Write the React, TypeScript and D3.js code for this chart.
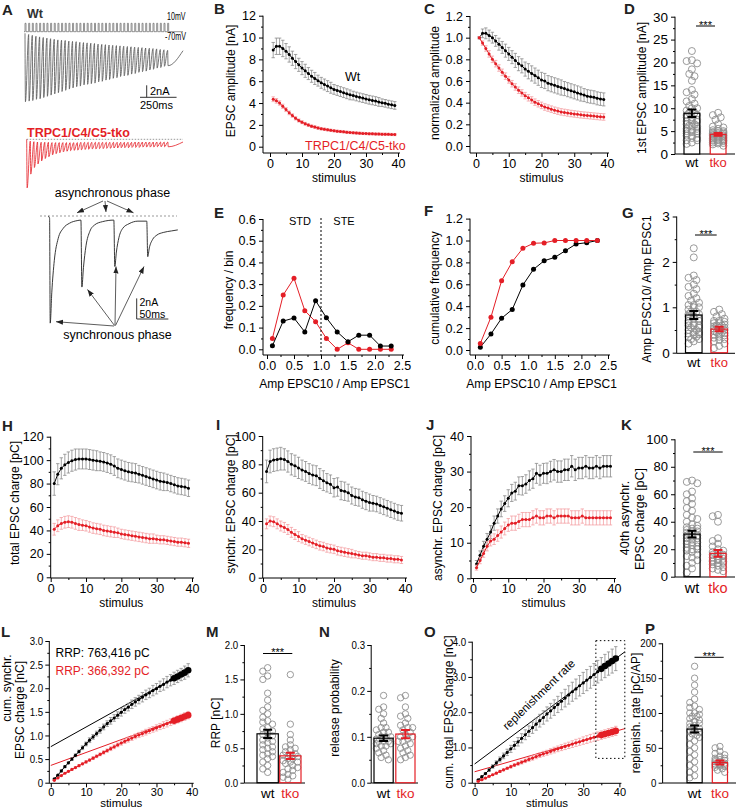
import React, { useEffect, useRef } from "react";
import * as d3 from "d3";

const FONT = "'Liberation Sans', Arial, Helvetica, sans-serif";
const RED = "#e41e26";
const RED_ERR = "#f4a0a3";
const GREY_ERR = "#8c8c8c";
const PT_GREY = "#8e8e8e";

// ---------- categories ----------
const stimulus = d3.range(1, 40);
const binCenters = [0.1, 0.3, 0.5, 0.7, 0.9, 1.1, 1.3, 1.5, 1.7, 1.9, 2.1, 2.3];
const groups = ["wt", "tko"];

// ---------- A: example traces ----------
const STIM_MS = 25;
const wtTracePeak = [11.4, 11.3, 11.2, 11.0, 10.9, 10.7, 10.5, 10.3, 10.1, 9.9, 9.7, 9.5, 9.3, 9.1, 8.9, 8.8, 8.6, 8.5, 8.4, 8.3, 8.1, 8.0, 7.8, 7.7, 7.5, 7.4, 7.2, 7.1, 7.0, 6.8, 6.7, 6.5, 6.4, 6.3, 6.1, 6.0, 5.8, 5.7, 5.5, 5.4];
const wtTraceBase = [0, 0.2, 0.35, 0.5, 0.6, 0.7, 0.8, 0.9, 1.0, 1.1, 1.15, 1.2, 1.3, 1.35, 1.4, 1.5, 1.55, 1.6, 1.65, 1.7, 1.8, 1.85, 1.9, 1.95, 2.0, 2.05, 2.1, 2.15, 2.2, 2.25, 2.3, 2.35, 2.4, 2.45, 2.5, 2.55, 2.6, 2.7, 2.75, 2.85, 2.9];
const tkoTracePeak = [8.1, 5.8, 4.7, 4.1, 3.6, 3.2, 2.9, 2.6, 2.4, 2.25, 2.1, 2.0, 1.9, 1.85, 1.8, 1.75, 1.7, 1.65, 1.6, 1.6, 1.55, 1.55, 1.5, 1.5, 1.45, 1.45, 1.4, 1.4, 1.4, 1.35, 1.35, 1.35, 1.3, 1.3, 1.3, 1.3, 1.25, 1.25, 1.25, 1.25];
const tkoTraceBase = [0, 0.3, 0.4, 0.45, 0.5, 0.5, 0.5, 0.55, 0.55, 0.55, 0.55, 0.55, 0.55, 0.55, 0.55, 0.5, 0.5, 0.5, 0.5, 0.5, 0.5, 0.5, 0.5, 0.5, 0.5, 0.5, 0.5, 0.5, 0.5, 0.5, 0.45, 0.45, 0.45, 0.45, 0.45, 0.45, 0.45, 0.45, 0.45, 0.45, 0.45];
const zoomTraceT = [0, 2.5, 3.5, 6, 10, 16, 24, 34, 46, 52, 53.5, 56, 60, 66, 74, 86, 104, 105.5, 108, 112, 118, 128, 142, 156, 157.5, 160, 165, 172, 182, 195, 205];
const zoomTraceI = [0, -0.2, -10.4, -7.4, -4.3, -2.2, -1.2, -0.7, -0.45, -0.4, -6.9, -5.0, -2.9, -1.5, -0.85, -0.55, -0.4, -4.9, -3.5, -2.1, -1.2, -0.75, -0.5, -0.5, -3.95, -3.1, -2.3, -1.85, -1.6, -1.45, -1.35];

// ---------- B ----------
const ampWt = [8.85, 9.2, 9.2, 9.0, 8.75, 8.45, 8.1, 7.8, 7.5, 7.2, 6.95, 6.7, 6.45, 6.25, 6.05, 5.85, 5.7, 5.55, 5.4, 5.25, 5.15, 5.05, 4.95, 4.85, 4.75, 4.68, 4.6, 4.52, 4.45, 4.38, 4.3, 4.24, 4.18, 4.1, 4.03, 3.97, 3.9, 3.84, 3.78];
const ampWtErr = [0.7, 0.75, 0.75, 0.75, 0.7, 0.7, 0.65, 0.65, 0.6, 0.6, 0.6, 0.55, 0.55, 0.55, 0.5, 0.5, 0.5, 0.5, 0.5, 0.45, 0.45, 0.45, 0.45, 0.45, 0.45, 0.4, 0.4, 0.4, 0.4, 0.4, 0.4, 0.4, 0.4, 0.4, 0.35, 0.35, 0.35, 0.35, 0.35];
const ampTko = [4.35, 4.2, 4.0, 3.7, 3.4, 3.1, 2.85, 2.6, 2.4, 2.25, 2.1, 1.98, 1.88, 1.8, 1.72, 1.65, 1.6, 1.55, 1.5, 1.46, 1.42, 1.39, 1.36, 1.33, 1.3, 1.28, 1.26, 1.24, 1.22, 1.2, 1.19, 1.18, 1.17, 1.16, 1.15, 1.14, 1.13, 1.12, 1.11];
const ampTkoErr = [0.22, 0.21, 0.2, 0.19, 0.18, 0.17, 0.16, 0.15, 0.14, 0.14, 0.13, 0.13, 0.12, 0.12, 0.12, 0.11, 0.11, 0.11, 0.1, 0.1, 0.1, 0.1, 0.1, 0.1, 0.1, 0.1, 0.1, 0.1, 0.1, 0.1, 0.1, 0.1, 0.1, 0.1, 0.1, 0.1, 0.1, 0.1, 0.1];

// ---------- C ----------
const normWt = [1.0, 1.04, 1.04, 1.02, 1.0, 0.97, 0.94, 0.91, 0.88, 0.85, 0.82, 0.79, 0.76, 0.74, 0.71, 0.69, 0.67, 0.65, 0.63, 0.61, 0.6, 0.58, 0.57, 0.56, 0.55, 0.54, 0.53, 0.52, 0.51, 0.5, 0.49, 0.48, 0.47, 0.46, 0.455, 0.45, 0.44, 0.435, 0.43];
const normWtErr = [0.01, 0.04, 0.05, 0.05, 0.05, 0.05, 0.055, 0.055, 0.06, 0.06, 0.06, 0.065, 0.065, 0.065, 0.065, 0.07, 0.07, 0.07, 0.07, 0.07, 0.07, 0.07, 0.07, 0.07, 0.07, 0.07, 0.065, 0.065, 0.065, 0.065, 0.065, 0.065, 0.06, 0.06, 0.06, 0.06, 0.06, 0.06, 0.06];
const normTko = [1.0, 0.95, 0.9, 0.85, 0.8, 0.76, 0.72, 0.68, 0.645, 0.61, 0.575, 0.545, 0.515, 0.49, 0.465, 0.445, 0.425, 0.405, 0.39, 0.375, 0.36, 0.35, 0.34, 0.33, 0.322, 0.315, 0.31, 0.305, 0.3, 0.296, 0.292, 0.288, 0.285, 0.282, 0.279, 0.276, 0.273, 0.27, 0.268];
const normTkoErr = [0.01, 0.02, 0.025, 0.03, 0.03, 0.03, 0.03, 0.03, 0.03, 0.03, 0.03, 0.03, 0.03, 0.03, 0.03, 0.03, 0.03, 0.03, 0.03, 0.03, 0.03, 0.03, 0.03, 0.03, 0.03, 0.03, 0.03, 0.03, 0.03, 0.03, 0.03, 0.03, 0.03, 0.03, 0.03, 0.03, 0.03, 0.03, 0.03];

// ---------- E / F ----------
const freqWt = [0.016, 0.13, 0.144, 0.08, 0.224, 0.145, 0.08, 0.035, 0.065, 0.065, 0.015, 0.015];
const freqTko = [0.05, 0.25, 0.327, 0.178, 0.127, 0.05, 0.0, 0.03, 0.0, 0.0, 0.0, 0.0];
const cumFreqWt = [0.025, 0.146, 0.29, 0.37, 0.593, 0.737, 0.815, 0.846, 0.907, 0.968, 0.98, 1.0];
const cumFreqTko = [0.06, 0.3, 0.633, 0.806, 0.929, 0.975, 0.978, 1.0, 1.0, 1.0, 1.0, 1.0];

// ---------- H ----------
const totWt = [80, 88, 93, 96, 98, 99.5, 100.5, 101, 101, 101, 100.5, 100, 99.5, 99, 98.5, 97.5, 96.5, 95, 93, 92, 91, 90, 89.5, 89, 88, 87, 86, 85, 84, 83, 82, 81.5, 81, 80, 79, 78, 77.5, 77, 76];
const totWtErr = [10, 9, 9, 9, 9, 9, 9, 8.5, 8.5, 8.5, 8.5, 8.5, 8.5, 8, 8, 8, 8, 8, 8, 8, 8, 8, 8, 8, 7.5, 7.5, 7.5, 7.5, 7.5, 7.5, 7.5, 7.5, 7, 7, 7, 7, 7, 7, 7];
const totTko = [41, 44, 46, 47, 47.5, 47, 46, 45, 44.5, 44, 43, 42, 41.5, 41, 40, 39.5, 39, 38.5, 38, 37, 36.5, 36, 35.5, 35, 34.5, 34, 33.5, 33, 33, 32.5, 32, 32, 31.5, 31, 30.5, 30, 30, 29.5, 29];
const totTkoErr = [5, 5, 5, 5, 5, 5, 5, 5, 4.5, 4.5, 4.5, 4.5, 4.5, 4.5, 4.5, 4.5, 4.5, 4.5, 4, 4, 4, 4, 4, 4, 4, 4, 4, 4, 4, 3.5, 3.5, 3.5, 3.5, 3.5, 3.5, 3.5, 3.5, 3.5, 3.5];

// ---------- I ----------
const synWt = [75, 82, 83, 83.5, 84, 83.5, 82, 80, 79, 77.5, 76, 75, 73.5, 72.5, 72, 70, 68.5, 67, 66, 63.5, 64, 61.5, 61, 60, 58, 57, 56.5, 55, 54, 53, 52.5, 52, 51, 50, 49, 48, 47, 46, 45.5];
const synWtErr = [8, 8, 8, 8, 8, 7.5, 7.5, 7.5, 7.5, 7.5, 7, 7, 7, 7, 7, 7, 7, 6.5, 6.5, 6.5, 6.5, 6.5, 6.5, 6, 6, 6, 6, 6, 6, 6, 5.5, 5.5, 5.5, 5.5, 5.5, 5.5, 5.5, 5.5, 5.5];
const synTko = [38, 40, 39.5, 38, 36.5, 35.5, 34, 32, 30.5, 29, 27.5, 26.5, 25.5, 24.5, 23.5, 22.5, 22, 21, 20.5, 20, 19, 18.5, 18, 17.5, 17, 16.5, 16, 15.5, 15.5, 15, 14.5, 14.5, 14, 14, 13.5, 13.5, 13, 13, 12.5];
const synTkoErr = [3.5, 3.5, 3.5, 3.5, 3.5, 3.5, 3.5, 3.5, 3.5, 3.5, 3, 3, 3, 3, 3, 3, 3, 3, 3, 3, 3, 3, 3, 3, 3, 2.5, 2.5, 2.5, 2.5, 2.5, 2.5, 2.5, 2.5, 2.5, 2.5, 2.5, 2.5, 2.5, 2.5];

// ---------- J ----------
const asyWt = [4, 6.5, 9, 11, 13, 15.5, 17.5, 19.5, 21, 22.5, 24, 24.5, 26, 26, 26.5, 27.5, 28, 29.5, 29, 29.5, 29.5, 30, 30.5, 30, 30, 30.5, 30.5, 31.5, 30.5, 31, 31, 31.5, 31, 31, 31.5, 31, 31.5, 31.5, 31.5];
const asyWtErr = [1, 1.2, 1.4, 1.6, 1.8, 2, 2, 2.2, 2.2, 2.4, 2.4, 2.5, 2.5, 2.6, 2.6, 2.7, 2.7, 2.8, 2.8, 2.8, 2.9, 2.9, 2.9, 3, 3, 3, 3, 3, 3, 3, 3, 3, 3, 3, 3, 3, 3, 3, 3];
const asyTko = [3, 5, 7, 9, 10.5, 11, 12, 13, 14, 15, 15.5, 15.5, 16, 16.5, 16.5, 16.5, 17, 17.5, 17, 17, 17.5, 17.5, 17, 17.5, 17.5, 17.5, 17.5, 17, 17, 17, 17.5, 17, 17, 17, 17, 17, 17, 17, 17];
const asyTkoErr = [0.7, 0.9, 1.1, 1.3, 1.4, 1.5, 1.6, 1.7, 1.8, 1.8, 2, 2, 2, 2, 2, 2, 2, 2, 2, 2, 2, 2, 2, 2, 2, 2, 2, 2, 2, 2, 2, 2, 2, 2, 2, 2, 2, 2, 2];

// ---------- L ----------
const cumSynWt = [0.08, 0.16, 0.25, 0.34, 0.42, 0.5, 0.58, 0.66, 0.74, 0.82, 0.9, 0.97, 1.04, 1.11, 1.18, 1.25, 1.31, 1.37, 1.43, 1.49, 1.55, 1.6, 1.66, 1.71, 1.76, 1.81, 1.86, 1.9, 1.95, 1.99, 2.04, 2.08, 2.13, 2.17, 2.21, 2.25, 2.29, 2.33, 2.38];
const cumSynWtErr = [0.01, 0.01, 0.02, 0.02, 0.02, 0.03, 0.03, 0.03, 0.04, 0.04, 0.05, 0.05, 0.05, 0.06, 0.06, 0.06, 0.07, 0.07, 0.07, 0.08, 0.08, 0.08, 0.09, 0.09, 0.09, 0.1, 0.1, 0.1, 0.11, 0.11, 0.11, 0.12, 0.12, 0.12, 0.13, 0.13, 0.13, 0.14, 0.14];
const cumSynTko = [0.05, 0.1, 0.15, 0.2, 0.24, 0.28, 0.32, 0.36, 0.4, 0.44, 0.48, 0.52, 0.56, 0.6, 0.64, 0.68, 0.72, 0.76, 0.8, 0.84, 0.875, 0.91, 0.945, 0.98, 1.01, 1.04, 1.07, 1.1, 1.13, 1.16, 1.19, 1.22, 1.25, 1.28, 1.31, 1.34, 1.37, 1.4, 1.43];
const cumSynTkoErr = [0.005, 0.01, 0.01, 0.01, 0.015, 0.015, 0.02, 0.02, 0.02, 0.025, 0.025, 0.03, 0.03, 0.03, 0.035, 0.035, 0.04, 0.04, 0.04, 0.045, 0.045, 0.05, 0.05, 0.05, 0.055, 0.055, 0.06, 0.06, 0.06, 0.065, 0.065, 0.07, 0.07, 0.07, 0.075, 0.075, 0.08, 0.08, 0.08];
const rrpIntercept = [0.763, 0.366];
const rrpSlope = [0.0415, 0.0273];

// ---------- O ----------
const cumTotWt = [0.08, 0.17, 0.26, 0.36, 0.46, 0.56, 0.66, 0.76, 0.86, 0.96, 1.06, 1.16, 1.26, 1.36, 1.46, 1.56, 1.66, 1.76, 1.85, 1.95, 2.04, 2.13, 2.22, 2.31, 2.4, 2.49, 2.58, 2.66, 2.75, 2.83, 2.91, 2.99, 3.07, 3.15, 3.23, 3.31, 3.38, 3.45, 3.52];
const cumTotWtErr = [0.01, 0.02, 0.03, 0.04, 0.05, 0.06, 0.07, 0.08, 0.09, 0.1, 0.11, 0.12, 0.13, 0.14, 0.15, 0.16, 0.17, 0.18, 0.19, 0.2, 0.21, 0.22, 0.23, 0.24, 0.25, 0.26, 0.27, 0.28, 0.29, 0.3, 0.3, 0.31, 0.31, 0.32, 0.32, 0.33, 0.33, 0.34, 0.34];
const cumTotTko = [0.04, 0.085, 0.13, 0.18, 0.225, 0.27, 0.32, 0.365, 0.41, 0.455, 0.5, 0.54, 0.58, 0.62, 0.66, 0.7, 0.74, 0.78, 0.82, 0.85, 0.89, 0.925, 0.96, 0.995, 1.03, 1.06, 1.095, 1.13, 1.16, 1.195, 1.225, 1.26, 1.29, 1.32, 1.35, 1.38, 1.41, 1.44, 1.47];
const cumTotTkoErr = [0.005, 0.01, 0.015, 0.02, 0.02, 0.025, 0.03, 0.03, 0.035, 0.04, 0.04, 0.045, 0.05, 0.05, 0.055, 0.06, 0.06, 0.065, 0.07, 0.07, 0.075, 0.08, 0.08, 0.085, 0.09, 0.09, 0.095, 0.1, 0.1, 0.105, 0.11, 0.11, 0.115, 0.12, 0.12, 0.12, 0.125, 0.125, 0.13];
const replIntercept = [0.53, 0.31];
const replSlope = [0.0767, 0.0295];
const fitWindow = [33.5, 41.5];
const fitWindowY = [0.69, 4.03];

// ---------- bar panels (wt, tko) ----------
const dMean = [8.9, 4.3];
const dSem = [0.8, 0.3];
const dWtPts = [22.5, 20.5, 20.3, 19.8, 18.5, 17.5, 17, 16, 14, 13.5, 13, 12, 11.5, 11, 10.5, 10, 10, 9.5, 9, 9, 8.5, 8.5, 8, 8, 7.5, 7.5, 7, 7, 6.5, 6.5, 6, 6, 5.5, 5.5, 5, 5, 4.5, 4.5, 4, 4, 3.5, 3.5, 3, 3, 2.5, 2.2, 4.8, 5.2, 6.2, 7.2];
const dTkoPts = [9, 8.5, 8, 7.5, 6.5, 6, 5.5, 5.2, 5, 5, 4.8, 4.6, 4.5, 4.4, 4.2, 4, 4, 3.8, 3.6, 3.5, 3.4, 3.2, 3, 3, 2.8, 2.6, 2.5, 2.3, 2.1, 1.8, 4.3, 3.9, 3.7, 4.1, 3.3, 2.9, 4.7, 5.8, 3.1, 2.4];

const gMean = [0.83, 0.52];
const gSem = [0.09, 0.05];
const gWtPts = [2.3, 2.1, 1.7, 1.65, 1.6, 1.5, 1.45, 1.4, 1.3, 1.25, 1.2, 1.15, 1.1, 1.05, 1.0, 1.0, 0.95, 0.9, 0.9, 0.85, 0.8, 0.8, 0.75, 0.7, 0.7, 0.65, 0.6, 0.6, 0.55, 0.5, 0.5, 0.45, 0.45, 0.4, 0.4, 0.35, 0.35, 0.3, 0.3, 0.25, 0.2, 0.6, 0.75, 1.05, 0.85, 0.65, 0.55, 0.42];
const gTkoPts = [0.95, 0.9, 0.85, 0.8, 0.75, 0.7, 0.68, 0.65, 0.62, 0.6, 0.58, 0.55, 0.53, 0.5, 0.5, 0.48, 0.45, 0.43, 0.4, 0.38, 0.35, 0.33, 0.3, 0.28, 0.25, 0.2, 0.15, 0.1, 0.6, 0.55, 0.45, 0.4, 0.65, 0.7];

const kMean = [31, 17];
const kSem = [2.5, 2.4];
const kWtPts = [70, 69, 68, 62, 60, 57, 55, 53, 50, 48, 45, 43, 42, 40, 38, 37, 36, 35, 34, 33, 32, 31, 30, 29, 28, 27, 26, 25, 24, 23, 22, 21, 20, 19, 18, 16, 15, 14, 12, 10, 8, 6, 3, 35, 28, 25, 20, 33, 30];
const kTkoPts = [45, 44, 40, 28, 26, 24, 22, 20, 19, 18, 17, 16, 15, 14, 13, 12, 11, 10, 10, 9, 8, 7, 6, 5, 4, 12, 15, 13, 11, 16];

const mMean = [0.71, 0.39];
const mSem = [0.06, 0.045];
const mWtPts = [1.67, 1.62, 1.55, 1.5, 1.3, 1.2, 1.1, 1.05, 1.0, 0.95, 0.9, 0.88, 0.85, 0.8, 0.78, 0.75, 0.72, 0.7, 0.65, 0.62, 0.6, 0.58, 0.55, 0.5, 0.48, 0.45, 0.42, 0.4, 0.38, 0.35, 0.3, 0.25, 0.2, 0.15, 0.68, 0.52];
const mTkoPts = [1.57, 0.85, 0.7, 0.62, 0.55, 0.52, 0.5, 0.48, 0.45, 0.42, 0.4, 0.38, 0.35, 0.32, 0.3, 0.28, 0.25, 0.22, 0.2, 0.18, 0.15, 0.12, 0.1, 0.08, 0.05, 0.35, 0.4, 0.3];

const nMean = [0.097, 0.106];
const nSem = [0.006, 0.009];
const nWtPts = [0.19, 0.165, 0.16, 0.15, 0.14, 0.13, 0.12, 0.12, 0.115, 0.11, 0.105, 0.1, 0.1, 0.095, 0.09, 0.09, 0.085, 0.08, 0.08, 0.075, 0.07, 0.065, 0.06, 0.055, 0.05, 0.1, 0.11, 0.09, 0.085];
const nTkoPts = [0.19, 0.185, 0.165, 0.15, 0.145, 0.14, 0.13, 0.125, 0.12, 0.115, 0.11, 0.1, 0.1, 0.095, 0.09, 0.085, 0.08, 0.075, 0.07, 0.065, 0.06, 0.055, 0.05, 0.12, 0.105, 0.09];

const pMean = [77, 29];
const pSem = [5, 3];
const pWtPts = [167, 150, 140, 130, 120, 115, 110, 108, 105, 100, 98, 95, 92, 90, 88, 85, 82, 80, 78, 75, 72, 70, 68, 65, 60, 55, 50, 45, 40, 35, 30, 25, 20, 15, 10, 7, 100, 95, 85, 75, 65];
const pTkoPts = [52, 50, 45, 42, 40, 38, 35, 33, 32, 30, 28, 27, 26, 25, 24, 22, 20, 18, 15, 30, 28, 26, 24, 35, 32];

// ---------- helpers ----------
function text(parent: any, x: number, y: number, s: string, o: any = {}) {
  return parent
    .append("text")
    .attr("x", x)
    .attr("y", y)
    .attr("font-family", FONT)
    .attr("font-size", o.fs || 12)
    .attr("font-weight", o.bold ? "bold" : "normal")
    .attr("fill", o.fill || "#000")
    .attr("text-anchor", o.anchor || "start")
    .text(s);
}

function vtext(parent: any, x: number, y: number, s: string, fs: number) {
  parent
    .append("text")
    .attr("transform", `translate(${x},${y}) rotate(-90)`)
    .attr("dy", "0.35em")
    .attr("text-anchor", "middle")
    .attr("font-family", FONT)
    .attr("font-size", fs)
    .attr("fill", "#000")
    .text(s);
}

function styleAxis(a: any, fs: number, sx = 1) {
  a.attr("font-family", FONT).attr("font-size", fs);
  a.select(".domain").remove();
  a.selectAll(".tick line").attr("stroke", "#000");
  a.selectAll(".tick text").attr("fill", "#000");
  if (sx !== 1) a.selectAll(".tick text").attr("transform", `scale(${sx},1)`);
}

function yAxis(g: any, y: any, x0: number, ticks: number[], minor: number[], fmt: any, fs: number, sx = 1) {
  const a = g.append("g").attr("transform", `translate(${x0},0)`);
  a.call(d3.axisLeft(y).tickValues(ticks).tickFormat((d: any) => fmt(d)).tickSize(4).tickPadding(3));
  styleAxis(a, fs, sx);
  if (minor && minor.length) {
    const m = g.append("g").attr("transform", `translate(${x0},0)`);
    m.call(d3.axisLeft(y).tickValues(minor).tickFormat(() => "").tickSize(2));
    styleAxis(m, fs);
  }
}

function xAxis(g: any, x: any, y0: number, ticks: number[], minor: number[], fmt: any, fs: number, pad: number) {
  const a = g.append("g").attr("transform", `translate(0,${y0})`);
  a.call(d3.axisBottom(x).tickValues(ticks).tickFormat((d: any) => fmt(d)).tickSize(4).tickPadding(pad));
  styleAxis(a, fs);
  if (minor && minor.length) {
    const m = g.append("g").attr("transform", `translate(0,${y0})`);
    m.call(d3.axisBottom(x).tickValues(minor).tickFormat(() => "").tickSize(2));
    styleAxis(m, fs);
  }
}

const fmtInt = (d: number) => String(d);
const fmt1 = (d: number) => d.toFixed(1);
const fmt1z = (d: number) => (d === 0 ? "0" : d.toFixed(1));

function linePanel(svg: any, c: any) {
  const x = d3.scaleLinear().domain(c.xDomain).range(c.xRange);
  const y = d3.scaleLinear().domain(c.yDomain).range(c.yRange);
  const g = svg.append("g");
  const fs = c.fs || 12.5;
  yAxis(g, y, c.axisX, c.yTicks, c.yMinor, c.yFmt, fs, c.sx || 1);
  xAxis(g, x, c.axisY, c.xTicks, c.xMinor, c.xFmt || fmtInt, fs, c.xPad == null ? 2 : c.xPad);
  g.append("path")
    .attr("d", `M${c.axisX},${c.yRange[1]}V${c.axisY}H${x(c.xDomain[1]) + 2}`)
    .attr("fill", "none")
    .attr("stroke", "#000");

  (c.fits || []).forEach((f: any) => {
    g.append("path")
      .datum([f.x0, f.x1])
      .attr("d", d3.line<number>().x((v) => x(v)).y((v) => y(f.b + f.k * v)))
      .attr("fill", "none")
      .attr("stroke", f.color)
      .attr("stroke-width", 1);
  });

  c.series.forEach((s: any) => {
    const pts = s.xs.map((xv: number, i: number) => ({ xv, m: s.mean[i], e: s.err ? s.err[i] : 0, i }));
    if (s.err) {
      g.append("g")
        .attr("stroke", s.errColor)
        .attr("stroke-width", 0.8)
        .attr("fill", "none")
        .selectAll("path")
        .data(pts)
        .join("path")
        .attr("d", (p: any) => {
          const px = x(p.xv);
          const hi = y(p.m + p.e);
          const lo = y(p.m - p.e);
          return `M${px},${lo}V${hi}M${px - 1.7},${hi}h3.4M${px - 1.7},${lo}h3.4`;
        });
    }
    g.append("path")
      .datum(pts)
      .attr("d", d3.line<any>().x((p) => x(p.xv)).y((p) => y(p.m)))
      .attr("fill", "none")
      .attr("stroke", s.color)
      .attr("stroke-width", 1);
    g.append("g")
      .selectAll("circle")
      .data(pts)
      .join("circle")
      .attr("cx", (p: any) => x(p.xv))
      .attr("cy", (p: any) => y(p.m))
      .attr("r", (p: any) => (s.bigFrom != null && p.i >= s.bigFrom ? 3.3 : s.r))
      .attr("fill", s.color);
  });

  if (c.xTitle) text(g, (c.xRange[0] + c.xRange[1]) / 2, c.xTitleY, c.xTitle, { fs: c.xTitleFs || 12, anchor: "middle" });
  (c.yTitles || []).forEach((t: any) => vtext(g, t.x, t.y, t.text, c.titleFs || 12));
  if (c.extra) c.extra(g, x, y);
}

// simple deterministic beeswarm inside a bar
function swarm(vals: number[], y: any, cx: number, r: number, maxOff: number) {
  const step = r * 0.75;
  const order = vals.map((_, i) => i).sort((a, b) => vals[b] - vals[a]);
  const placed: any[] = [];
  const out: any[] = new Array(vals.length);
  const ks = [0, -1, 1, -2, 2, -3, 3, -4, 4];
  order.forEach((i) => {
    const py = y(vals[i]);
    let bx = cx;
    let best = Infinity;
    for (const k of ks) {
      const px = cx + k * step;
      if (Math.abs(px - cx) > maxOff) continue;
      let ov = 0;
      placed.forEach((p) => {
        const d = Math.hypot(p.x - px, p.y - py);
        if (d < 1.5 * r) ov += 1.5 * r - d;
      });
      if (ov < best - 0.01) {
        best = ov;
        bx = px;
      }
      if (ov === 0) break;
    }
    const p = { x: bx, y: py };
    placed.push(p);
    out[i] = p;
  });
  return out;
}

function barPanel(svg: any, c: any) {
  const y = d3.scaleLinear().domain(c.yDomain).range(c.yRange);
  const band = d3.scaleBand().domain(groups).range(c.bandRange).paddingInner(c.pad);
  const g = svg.append("g");
  yAxis(g, y, c.axisX, c.yTicks, c.yMinor, c.yFmt, c.fs, c.sx || 1);
  g.append("path")
    .attr("d", `M${c.axisX},${c.yRange[1]}V${c.axisY}H${c.xEnd}`)
    .attr("fill", "none")
    .attr("stroke", "#000");
  const bw = band.bandwidth();
  groups.forEach((grp, gi) => {
    const x0 = band(grp) as number;
    const cx = x0 + bw / 2;
    const col = gi === 0 ? "#000" : RED;
    const top = y(c.mean[gi]);
    g.append("rect").attr("x", x0).attr("y", top).attr("width", bw).attr("height", y(0) - top).attr("fill", "#fff");
    const pos = swarm(c.pts[gi], y, cx, c.r, bw / 2 - 1.5);
    g.append("g")
      .selectAll("circle")
      .data(pos)
      .join("circle")
      .attr("cx", (p: any) => p.x)
      .attr("cy", (p: any) => p.y)
      .attr("r", c.r)
      .attr("fill", "none")
      .attr("stroke", PT_GREY)
      .attr("stroke-width", 0.9);
    g.append("rect")
      .attr("x", x0)
      .attr("y", top)
      .attr("width", bw)
      .attr("height", y(0) - top)
      .attr("fill", "none")
      .attr("stroke", col)
      .attr("stroke-width", 1.2);
    const hi = y(c.mean[gi] + c.sem[gi]);
    const lo = y(c.mean[gi] - c.sem[gi]);
    g.append("path")
      .attr("d", `M${cx},${lo}V${hi}M${cx - 4.5},${hi}h9M${cx - 4.5},${lo}h9`)
      .attr("stroke", col)
      .attr("stroke-width", 2)
      .attr("fill", "none");
    text(g, cx, c.labelY, grp, { fs: c.labelFs, anchor: "middle", fill: col });
  });
  if (c.sig) {
    g.append("line")
      .attr("x1", c.sig.x0)
      .attr("x2", c.sig.x1)
      .attr("y1", c.sig.y)
      .attr("y2", c.sig.y)
      .attr("stroke", "#000");
    text(g, (c.sig.x0 + c.sig.x1) / 2, c.sig.y + 2.6, "***", { fs: 11, anchor: "middle" });
  }
  (c.yTitles || []).forEach((t: any) => vtext(g, t.x, t.y, t.text, c.titleFs || 12));
}

function drawTraces(svg: any) {
  const g = svg.append("g");
  const tWt = d3.scaleLinear().domain([0, 1080]).range([25, 183]);
  const tTko = d3.scaleLinear().domain([0, 1080]).range([26.7, 183]);
  const vStim = d3.scaleLinear().domain([-70, 10]).range([31.7, 23.3]);
  const iWt = d3.scaleLinear().domain([0, -1]).range([33.3, 39.3]);
  const iTko = d3.scaleLinear().domain([0, -1]).range([139.3, 145.3]);
  const spikeT = wtTracePeak.map((_, i) => i * STIM_MS);

  // stimulus protocol
  let sd = `M${tWt(0) - 1},${vStim(-70)}`;
  spikeT.forEach((t) => {
    sd += `H${tWt(t)}V${vStim(10)}H${tWt(t + 7)}V${vStim(-70)}`;
  });
  sd += `H${tWt(1080)}`;
  g.append("path").attr("d", sd).attr("fill", "none").attr("stroke", "#666").attr("stroke-width", 0.7);
  g.append("text")
    .attr("x", 167)
    .attr("y", 20)
    .attr("font-family", FONT)
    .attr("font-size", 10)
    .attr("textLength", 18.5)
    .attr("lengthAdjust", "spacingAndGlyphs")
    .text("10mV");
  g.append("text")
    .attr("x", 165)
    .attr("y", 39.5)
    .attr("font-family", FONT)
    .attr("font-size", 10)
    .attr("textLength", 21)
    .attr("lengthAdjust", "spacingAndGlyphs")
    .text("-70mV");

  const tracePts = (peak: number[], base: number[]) => {
    const pts: [number, number][] = [];
    peak.forEach((pk, i) => {
      pts.push([spikeT[i], -base[i]]);
      pts.push([spikeT[i] + 3, -pk]);
    });
    pts.push([1080, -base[base.length - 1]]);
    return pts;
  };

  g.append("path")
    .datum(tracePts(wtTracePeak, wtTraceBase))
    .attr("d", d3.line<[number, number]>().x((d) => tWt(d[0])).y((d) => iWt(d[1])).curve(d3.curveMonotoneX))
    .attr("fill", "none")
    .attr("stroke", "#555")
    .attr("stroke-width", 0.8);

  text(g, 27, 18.3, "Wt", { fs: 12.5, bold: true, fill: "#333" });

  // scale bar 1
  const sbX = 146.7;
  const sbY = 97.3;
  g.append("path")
    .attr("d", `M${sbX},${sbY - (iWt(-2) - iWt(0))}V${sbY}M${sbX - 6.7},${sbY}h${tWt(250) - tWt(0)}`)
    .attr("stroke", "#333")
    .attr("fill", "none");
  text(g, 150, 95, "2nA", { fs: 11 });
  text(g, 140, 109, "250ms", { fs: 11 });

  // tko
  text(g, 27, 137, "TRPC1/C4/C5-tko", { fs: 12.5, bold: true, fill: RED });
  g.append("line")
    .attr("x1", tTko(0))
    .attr("x2", tTko(1080))
    .attr("y1", iTko(0))
    .attr("y2", iTko(0))
    .attr("stroke", "#999")
    .attr("stroke-dasharray", "1.5,1.5");
  g.append("path")
    .datum(tracePts(tkoTracePeak, tkoTraceBase))
    .attr("d", d3.line<[number, number]>().x((d) => tTko(d[0])).y((d) => iTko(d[1])).curve(d3.curveMonotoneX))
    .attr("fill", "none")
    .attr("stroke", RED)
    .attr("stroke-width", 0.8);

  // expanded trace
  const tZ = d3.scaleLinear().domain([0, 205]).range([48, 177.8]);
  const iZ = d3.scaleLinear().domain([0, -1]).range([216, 226.3]);
  g.append("line")
    .attr("x1", 40)
    .attr("x2", 177)
    .attr("y1", iZ(0))
    .attr("y2", iZ(0))
    .attr("stroke", "#999")
    .attr("stroke-dasharray", "2,2");
  g.append("path")
    .datum(zoomTraceT.map((t, i) => [t, zoomTraceI[i]] as [number, number]))
    .attr("d", d3.line<[number, number]>().x((d) => tZ(d[0])).y((d) => iZ(d[1])).curve(d3.curveMonotoneX))
    .attr("fill", "none")
    .attr("stroke", "#222")
    .attr("stroke-width", 0.9);

  const zbX = 136.7;
  const zbY = 319;
  g.append("path")
    .attr("d", `M${zbX},${zbY - (iZ(-2) - iZ(0))}V${zbY}h${tZ(50) - tZ(0)}`)
    .attr("stroke", "#333")
    .attr("fill", "none");
  text(g, 139.5, 306, "2nA", { fs: 10.5 });
  text(g, 139.5, 317.5, "50ms", { fs: 10.5 });

  // annotations
  const defs = svg.append("defs");
  defs
    .append("marker")
    .attr("id", "ah")
    .attr("viewBox", "0 0 8 6")
    .attr("refX", 8)
    .attr("refY", 3)
    .attr("markerWidth", 7)
    .attr("markerHeight", 5.5)
    .attr("markerUnits", "userSpaceOnUse")
    .attr("orient", "auto")
    .append("path")
    .attr("d", "M0,0L8,3L0,6z")
    .attr("fill", "#222");

  text(g, 112.5, 197, "asynchronous phase", { fs: 12.5, anchor: "middle" });
  const asyncArrows = [
    [103, 201, 77, 212.8],
    [105, 201, 106, 212],
    [107, 201, 133.5, 212.8],
  ];
  const syncArrows = [
    [114, 326, 56, 321.7],
    [114.5, 325.5, 87.5, 289.5],
    [115, 325.5, 116, 266.5],
    [115.5, 325.5, 144, 266.5],
  ];
  [...asyncArrows, ...syncArrows].forEach((a) => {
    g.append("line")
      .attr("x1", a[0])
      .attr("y1", a[1])
      .attr("x2", a[2])
      .attr("y2", a[3])
      .attr("stroke", "#333")
      .attr("stroke-width", 0.8)
      .attr("marker-end", "url(#ah)");
  });
  text(g, 117.5, 338.5, "synchronous phase", { fs: 12.5, anchor: "middle" });
}

export default function App() {
  const svgRef = useRef<SVGSVGElement>(null);

  useEffect(() => {
    const svg = d3.select(svgRef.current);
    svg.selectAll("*").remove();
    svg.append("rect").attr("width", 737).attr("height", 809).attr("fill", "#fff");

    // panel letters
    const letters: [string, number, number][] = [
      ["A", 2, 15], ["B", 214, 14], ["C", 424, 14], ["D", 624, 14],
      ["E", 214, 218], ["F", 424, 216], ["G", 622, 218],
      ["H", 2, 431], ["I", 216, 430], ["J", 426, 430], ["K", 621, 430],
      ["L", 1, 637], ["M", 206, 637], ["N", 319, 637], ["O", 424, 637], ["P", 645, 634],
    ];
    letters.forEach(([s, x, y]) => text(svg, x, y, s, { fs: 15, bold: true, fill: "#222" }));

    drawTraces(svg);

    const wtStyle = { color: "#000", errColor: GREY_ERR, r: 1.5 };
    const tkoStyle = { color: RED, errColor: RED_ERR, r: 1.5 };
    const stimTicks = [0, 10, 20, 30, 40];
    const stimMinor = [5, 15, 25, 35];

    // B
    linePanel(svg, {
      axisX: 263, axisY: 153, xDomain: [0, 40], xRange: [270, 398], yDomain: [0, 12], yRange: [146.7, 15.7],
      xTicks: stimTicks, xMinor: stimMinor, yTicks: [0, 2, 4, 6, 8, 10, 12], yMinor: [1, 3, 5, 7, 9, 11], yFmt: fmtInt,
      series: [
        { xs: stimulus, mean: ampTko, err: ampTkoErr, ...tkoStyle },
        { xs: stimulus, mean: ampWt, err: ampWtErr, ...wtStyle },
      ],
      xTitle: "stimulus", xTitleY: 182,
      yTitles: [{ text: "EPSC amplitude [nA]", x: 231, y: 81 }],
      extra: (g: any) => {
        text(g, 345, 81, "Wt", { fs: 12.5 });
        text(g, 305, 150, "TRPC1/C4/C5-tko", { fs: 12.5, fill: RED });
      },
    });

    // C
    linePanel(svg, {
      axisX: 470, axisY: 153, xDomain: [0, 40], xRange: [476, 607], yDomain: [0, 1.2], yRange: [146, 16],
      xTicks: stimTicks, xMinor: stimMinor, yTicks: [0, 0.2, 0.4, 0.6, 0.8, 1.0, 1.2], yMinor: [0.1, 0.3, 0.5, 0.7, 0.9, 1.1], yFmt: fmt1,
      series: [
        { xs: stimulus, mean: normWt, err: normWtErr, ...wtStyle },
        { xs: stimulus, mean: normTko, err: normTkoErr, ...tkoStyle },
      ],
      xTitle: "stimulus", xTitleY: 182,
      yTitles: [{ text: "normalized amplitude", x: 435, y: 83 }],
    });

    // E
    const ampTicks = [0, 0.5, 1.0, 1.5, 2.0, 2.5];
    const ampMinor = [0.25, 0.75, 1.25, 1.75, 2.25];
    linePanel(svg, {
      axisX: 263, axisY: 355, xDomain: [0, 2.5], xRange: [267, 402], yDomain: [0, 0.6], yRange: [349.3, 219],
      xTicks: ampTicks, xMinor: ampMinor, xFmt: fmt1, yTicks: [0, 0.1, 0.2, 0.3, 0.4, 0.5, 0.6],
      yMinor: [0.05, 0.15, 0.25, 0.35, 0.45, 0.55], yFmt: fmt1,
      series: [
        { xs: binCenters, mean: freqTko, color: RED, r: 2.5 },
        { xs: binCenters, mean: freqWt, color: "#000", r: 2.5 },
      ],
      xTitle: "Amp EPSC10 / Amp EPSC1", xTitleY: 388,
      yTitles: [{ text: "frequency / bin", x: 229, y: 290 }],
      extra: (g: any, x: any, y: any) => {
        g.append("line")
          .attr("x1", x(1)).attr("x2", x(1)).attr("y1", y(0.6) - 1).attr("y2", 355)
          .attr("stroke", "#000").attr("stroke-dasharray", "2,2");
        text(g, x(1) - 21, 225, "STD", { fs: 11, anchor: "middle" });
        text(g, x(1) + 23, 225, "STE", { fs: 11, anchor: "middle" });
      },
    });

    // F
    linePanel(svg, {
      axisX: 470, axisY: 355, xDomain: [0, 2.5], xRange: [475, 608], yDomain: [0, 1.2], yRange: [350, 218.6],
      xTicks: ampTicks, xMinor: ampMinor, xFmt: fmt1, yTicks: [0, 0.2, 0.4, 0.6, 0.8, 1.0, 1.2],
      yMinor: [0.1, 0.3, 0.5, 0.7, 0.9, 1.1], yFmt: fmt1,
      series: [
        { xs: binCenters, mean: cumFreqWt, color: "#000", r: 2.5 },
        { xs: binCenters, mean: cumFreqTko, color: RED, r: 2.5 },
      ],
      xTitle: "Amp EPSC10 / Amp EPSC1", xTitleY: 388,
      yTitles: [{ text: "cumulative frequency", x: 435, y: 288 }],
    });

    // H
    linePanel(svg, {
      axisX: 50.7, axisY: 578, xDomain: [0, 40], xRange: [50.7, 192], yDomain: [0, 120], yRange: [577.3, 436.7],
      xTicks: stimTicks, xMinor: stimMinor, yTicks: [0, 20, 40, 60, 80, 100, 120], yMinor: [10, 30, 50, 70, 90, 110], yFmt: fmtInt,
      series: [
        { xs: stimulus, mean: totWt, err: totWtErr, ...wtStyle },
        { xs: stimulus, mean: totTko, err: totTkoErr, ...tkoStyle },
      ],
      xTitle: "stimulus", xTitleY: 606.5,
      yTitles: [{ text: "total EPSC charge [pC]", x: 15, y: 503 }],
    });

    // I
    linePanel(svg, {
      axisX: 262.7, axisY: 578, xDomain: [0, 40], xRange: [263, 405], yDomain: [0, 100], yRange: [577.7, 436],
      xTicks: stimTicks, xMinor: stimMinor, yTicks: [0, 20, 40, 60, 80, 100], yMinor: [10, 30, 50, 70, 90], yFmt: fmtInt,
      series: [
        { xs: stimulus, mean: synWt, err: synWtErr, ...wtStyle },
        { xs: stimulus, mean: synTko, err: synTkoErr, ...tkoStyle },
      ],
      xTitle: "stimulus", xTitleY: 606.5,
      yTitles: [{ text: "synchr. EPSC charge [pC]", x: 231, y: 504 }],
    });

    // J
    linePanel(svg, {
      axisX: 471, axisY: 578.5, xDomain: [0, 40], xRange: [473, 614], yDomain: [0, 40], yRange: [578.3, 436],
      xTicks: stimTicks, xMinor: stimMinor, yTicks: [0, 10, 20, 30, 40], yMinor: [5, 15, 25, 35], yFmt: fmtInt,
      series: [
        { xs: stimulus, mean: asyWt, err: asyWtErr, ...wtStyle },
        { xs: stimulus, mean: asyTko, err: asyTkoErr, ...tkoStyle },
      ],
      xTitle: "stimulus", xTitleY: 607,
      yTitles: [{ text: "asynchr. EPSC charge [pC]", x: 438, y: 508 }],
    });

    // L
    linePanel(svg, {
      axisX: 49.3, axisY: 783.3, xDomain: [0, 40], xRange: [50.8, 191.7], yDomain: [0, 3], yRange: [782.7, 641],
      xTicks: stimTicks, xMinor: stimMinor, yTicks: [0, 0.5, 1, 1.5, 2, 2.5, 3], yMinor: [0.25, 0.75, 1.25, 1.75, 2.25, 2.75],
      yFmt: fmt1z, fs: 11, sx: 0.88, xPad: 1, xTitleFs: 11.5,
      fits: [
        { b: rrpIntercept[0], k: rrpSlope[0], x0: 0, x1: 38, color: "#000" },
        { b: rrpIntercept[1], k: rrpSlope[1], x0: 0, x1: 39.5, color: RED },
      ],
      series: [
        { xs: stimulus, mean: cumSynWt, err: cumSynWtErr, ...wtStyle, r: 1.6, bigFrom: 34 },
        { xs: stimulus, mean: cumSynTko, err: cumSynTkoErr, ...tkoStyle, r: 1.6, bigFrom: 34 },
      ],
      xTitle: "stimulus", xTitleY: 806.5,
      yTitles: [
        { text: "cum. synchr.", x: 7, y: 688 },
        { text: "EPSC charge [nC]", x: 20, y: 710 },
      ],
      extra: (g: any) => {
        text(g, 55.5, 657, "RRP: 763,416 pC", { fs: 12 });
        text(g, 55.5, 675, "RRP: 366,392 pC", { fs: 12, fill: RED });
      },
    });

    // O
    linePanel(svg, {
      axisX: 472.3, axisY: 783.3, xDomain: [0, 40], xRange: [474.6, 619.4], yDomain: [0, 4], yRange: [782.7, 641.7],
      xTicks: stimTicks, xMinor: stimMinor, yTicks: [0, 1, 2, 3, 4], yMinor: [0.5, 1.5, 2.5, 3.5], yFmt: fmt1z,
      fs: 11, sx: 0.88, xPad: 1, xTitleFs: 11.5,
      fits: [
        { b: replIntercept[0], k: replSlope[0], x0: 0, x1: 41.5, color: "#000" },
        { b: replIntercept[1], k: replSlope[1], x0: 0, x1: 41.5, color: RED },
      ],
      series: [
        { xs: stimulus, mean: cumTotWt, err: cumTotWtErr, ...wtStyle, r: 1.6, bigFrom: 34 },
        { xs: stimulus, mean: cumTotTko, err: cumTotTkoErr, ...tkoStyle, r: 1.6, bigFrom: 34 },
      ],
      xTitle: "stimulus", xTitleY: 806.5,
      yTitles: [{ text: "cum. total EPSC charge [nC]", x: 449, y: 712 }],
      extra: (g: any, x: any, y: any) => {
        g.append("rect")
          .attr("x", x(fitWindow[0]))
          .attr("y", y(fitWindowY[1]))
          .attr("width", x(fitWindow[1]) - x(fitWindow[0]))
          .attr("height", y(fitWindowY[0]) - y(fitWindowY[1]))
          .attr("fill", "none")
          .attr("stroke", "#000")
          .attr("stroke-dasharray", "1.5,2.5");
        g.append("text")
          .attr("transform", "translate(541.6,697.5) rotate(-44)")
          .attr("text-anchor", "middle")
          .attr("font-family", FONT)
          .attr("font-size", 11.5)
          .text("replenishment rate");
      },
    });

    // D
    barPanel(svg, {
      axisX: 675, axisY: 154, xEnd: 735, yDomain: [0, 30], yRange: [154, 16.7],
      yTicks: [0, 5, 10, 15, 20, 25, 30], yMinor: [2.5, 7.5, 12.5, 17.5, 22.5, 27.5], yFmt: fmtInt, fs: 13.5,
      bandRange: [684, 726], pad: 0.4, mean: dMean, sem: dSem, pts: [dWtPts, dTkoPts], r: 3.5,
      labelY: 167, labelFs: 13, sig: { x0: 696, x1: 715, y: 26 },
      yTitles: [{ text: "1st EPSC amplitude [nA]", x: 642, y: 88 }],
    });

    // G
    barPanel(svg, {
      axisX: 676.7, axisY: 353.3, xEnd: 735, yDomain: [0, 3], yRange: [352.7, 216.5],
      yTicks: [0, 1, 2, 3], yMinor: [0.5, 1.5, 2.5], yFmt: fmtInt, fs: 13.5,
      bandRange: [685.5, 727.5], pad: 0.35, mean: gMean, sem: gSem, pts: [gWtPts, gTkoPts], r: 3.5,
      labelY: 366.5, labelFs: 13, sig: { x0: 695, x1: 716.7, y: 235 },
      yTitles: [{ text: "Amp EPSC10/ Amp EPSC1", x: 647, y: 289 }],
    });

    // K
    barPanel(svg, {
      axisX: 675, axisY: 577, xEnd: 735, yDomain: [0, 100], yRange: [576.7, 439.3],
      yTicks: [0, 20, 40, 60, 80, 100], yMinor: [10, 30, 50, 70, 90], yFmt: fmtInt, fs: 13,
      bandRange: [684, 726], pad: 0.38, mean: kMean, sem: kSem, pts: [kWtPts, kTkoPts], r: 3.5,
      labelY: 593, labelFs: 14.5, sig: { x0: 693.3, x1: 722.7, y: 452 }, titleFs: 12.5,
      yTitles: [
        { text: "40th asynchr.", x: 625, y: 518 },
        { text: "EPSC charge [pC]", x: 639.5, y: 519 },
      ],
    });

    // M
    barPanel(svg, {
      axisX: 244.4, axisY: 783, xEnd: 305, yDomain: [0, 2], yRange: [782.7, 645],
      yTicks: [0, 0.5, 1, 1.5, 2], yMinor: [0.25, 0.75, 1.25, 1.75], yFmt: fmt1, fs: 11, sx: 0.88,
      bandRange: [257, 301], pad: 0.06, mean: mMean, sem: mSem, pts: [mWtPts, mTkoPts], r: 3.2,
      labelY: 798, labelFs: 13.5, sig: { x0: 263, x1: 292.3, y: 653.5 },
      yTitles: [{ text: "RRP [nC]", x: 216, y: 723 }],
    });

    // N
    barPanel(svg, {
      axisX: 371.2, axisY: 783, xEnd: 418, yDomain: [0, 0.3], yRange: [782.7, 645],
      yTicks: [0, 0.1, 0.2, 0.3], yMinor: [0.05, 0.15, 0.25], yFmt: fmt1, fs: 11, sx: 0.88,
      bandRange: [374, 415], pad: 0.12, mean: nMean, sem: nSem, pts: [nWtPts, nTkoPts], r: 3.2,
      labelY: 798, labelFs: 13.5,
      yTitles: [{ text: "release probability", x: 334.6, y: 708 }],
    });

    // P
    barPanel(svg, {
      axisX: 662.6, axisY: 783, xEnd: 736, yDomain: [0, 200], yRange: [782.7, 643.3],
      yTicks: [0, 50, 100, 150, 200], yMinor: [25, 75, 125, 175], yFmt: fmtInt, fs: 11, sx: 0.88,
      bandRange: [687, 727.5], pad: 0.4, mean: pMean, sem: pSem, pts: [pWtPts, pTkoPts], r: 3.2,
      labelY: 798, labelFs: 13.5, sig: { x0: 694.5, x1: 723.7, y: 657.3 },
      yTitles: [{ text: "replenish. rate [pC/AP]", x: 636, y: 713 }],
    });
  }, []);

  return (
    <div style={{ position: "absolute", left: 0, top: 0 }}>
      <svg ref={svgRef} width={737} height={809} style={{ display: "block" }} />
    </div>
  );
}
